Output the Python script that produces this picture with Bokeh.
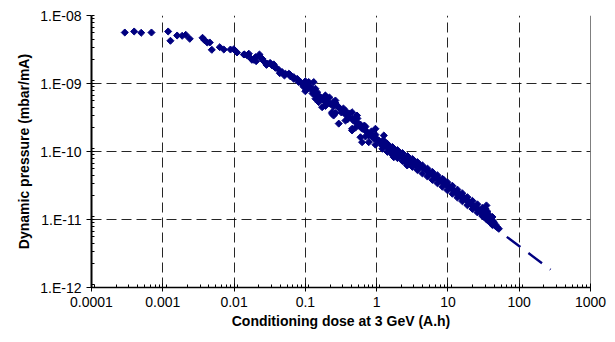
import numpy as np
from bokeh.plotting import figure
from bokeh.models import Range1d, Span, CustomJSTickFormatter, LogTicker
from bokeh.embed import file_html
from bokeh.resources import INLINE

# Conditioning dose (A.h) and dynamic pressure (mbar/mA)
dose = [
    2.93e-4, 3.97e-4, 4.98e-4, 6.94e-4, 1.19e-3, 1.28e-3, 1.59e-3, 1.87e-3, 2.10e-3, 2.39e-3,
    3.61e-3, 3.85e-3, 4.2e-3, 4.56e-3, 4.87e-3, 6.3e-3, 7.18e-3, 8.9e-3, 9.9e-3, 1.10e-2,
    1.40e-2, 1.61e-2, 1.79e-2, 2.04e-2, 2.27e-2, 2.48e-2, 2.85e-2, 3.24e-2, 3.72e-2, 4.38e-2,
    5.09e-2, 6.05e-2, 6.88e-2, 8.07e-2,
    1.37e-2, 1.53e-2, 1.74e-2, 1.89e-2, 2.0e-2, 2.29e-2, 2.48e-2, 2.61e-2, 2.91e-2, 3.16e-2,
    3.42e-2, 3.6e-2, 3.8e-2, 4.24e-2, 4.73e-2, 5.26e-2, 5.86e-2, 6.19e-2, 6.88e-2, 7.69e-2,
    8.55e-2, 9.5e-2, 0.106,
    9.0e-2, 0.100, 0.1117, 0.131, 0.125, 0.1466, 0.1387, 0.163, 0.154, 0.181,
    0.202, 0.191, 0.172, 0.224, 0.249, 0.279, 0.264, 0.237, 0.249, 0.310,
    0.345, 0.405, 0.452, 0.503, 0.452, 0.561,
    0.452, 0.531, 0.561, 0.625, 0.697, 0.625, 0.775, 0.962, 0.912, 1.07,
    1.26, 1.19, 1.40, 1.56, 1.84, 1.74, 2.16, 2.54, 2.98, 3.50, 3.89, 2.68,
    3.31, 3.70, 4.35, 5.1, 6.0, 6.68, 7.85, 9.22, 10.3, 12.1, 14.2, 16.7, 19.6,
    15.8, 18.6, 21.8, 25.6, 28.6, 33.6, 34.7, 35.5, 39.5, 44.1, 49.2, 51.8,
    0.294, 0.237, 0.593, 0.775, 0.452,
    9.4e-2, 0.107, 0.118, 0.126, 0.152, 0.174, 0.204, 0.218, 0.248, 0.291,
    0.320, 0.365, 0.389, 0.472, 0.537, 0.592, 0.652, 0.718, 0.817, 0.871,
    0.993, 1.13, 1.29, 1.46, 1.66, 1.96, 2.30, 2.79, 3.18, 3.98,
    4.68, 5.5, 6.25, 7.35, 8.36, 9.84, 11.2, 13.2, 15.0, 17.6,
    20.7, 23.5, 26.8, 31.5, 37.0, 42.1, 46.3, 39.5, 32.5, 13.6,
    8.63, 5.33, 2.45, 2.09, 1.42, 0.844, 0.673, 0.415, 0.342, 0.191,
    # upper edge of the dense band, 1 to 50 A.h
    1.206, 1.417, 1.666, 1.958, 2.301, 2.704, 3.178, 3.735, 4.389, 5.159,
    6.062, 7.125, 8.374, 9.84, 11.56, 13.59, 15.97, 18.77, 22.06, 25.93,
    30.47, 35.81, 42.09,
    # lower edge of the dense band, 1 to 50 A.h
    1.206, 1.417, 1.666, 1.958, 2.301, 2.704, 3.178, 3.735, 4.389, 5.159,
    6.062, 7.125, 8.374, 9.84, 11.56, 13.59, 15.97, 18.77, 22.06, 25.93,
    30.47, 35.81, 42.09,
    # upper and lower edges, 0.1 to 1 A.h
    0.1, 0.1386, 0.1913, 0.2644, 0.3651, 0.5043, 0.6965, 0.962,
    0.1, 0.1386, 0.1913, 0.2644, 0.3651, 0.5043, 0.6965, 0.962,
]
pressure = [
    5.62e-9, 5.82e-9, 5.57e-9, 5.62e-9, 5.82e-9, 4.25e-9, 5.08e-9, 5.03e-9, 5.2e-9, 4.54e-9,
    4.70e-9, 4.33e-9, 4.01e-9, 4.01e-9, 3.13e-9, 3.42e-9, 3.16e-9, 3.16e-9, 3.19e-9, 2.86e-9,
    2.67e-9, 2.74e-9, 2.23e-9, 2.13e-9, 2.67e-9, 2.28e-9, 1.88e-9, 1.99e-9, 1.78e-9, 1.42e-9,
    1.31e-9, 1.36e-9, 1.17e-9, 1.05e-9,
    2.67e-9, 2.58e-9, 2.31e-9, 2.23e-9, 2.44e-9, 2.49e-9, 2.31e-9, 2.13e-9, 1.95e-9, 1.99e-9,
    1.84e-9, 1.91e-9, 1.70e-9, 1.59e-9, 1.47e-9, 1.39e-9, 1.39e-9, 1.27e-9, 1.24e-9, 1.17e-9,
    1.05e-9, 9.9e-10, 9.3e-10,
    9.9e-10, 9.35e-10, 1.05e-9, 1.05e-9, 7.89e-10, 7.45e-10, 6.67e-10, 6.29e-10, 5.31e-10, 5.62e-10,
    5.96e-10, 4.75e-10, 4.48e-10, 5.03e-10, 5.31e-10, 4.75e-10, 5.62e-10, 3.78e-10, 3.38e-10, 4.25e-10,
    3.78e-10, 3.19e-10, 3.03e-10, 2.70e-10, 2.16e-10, 2.41e-10,
    3.78e-10, 3.38e-10, 2.55e-10, 2.16e-10, 2.04e-10, 1.37e-10, 1.72e-10, 2.16e-10, 1.54e-10, 1.45e-10,
    1.72e-10, 1.22e-10, 1.16e-10, 1.03e-10, 9.76e-11, 8.24e-11, 8.73e-11, 7.81e-11, 7.37e-11, 6.6e-11, 5.88e-11, 6.23e-11,
    7.37e-11, 6.6e-11, 5.88e-11, 5.26e-11, 4.70e-11, 4.19e-11, 3.75e-11, 3.35e-11, 2.99e-11, 2.67e-11, 2.39e-11, 2.01e-11, 1.80e-11,
    2.25e-11, 1.90e-11, 1.61e-11, 1.44e-11, 1.28e-11, 1.44e-11, 1.61e-11, 1.15e-11, 1.02e-11, 9.13e-12, 7.7e-12, 7.3e-12,
    2.57e-10, 3.58e-10, 1.62e-10, 1.37e-10, 2.04e-10,
    9.0e-10, 8.44e-10, 9.0e-10, 7.13e-10, 6.67e-10, 5.82e-10, 5.26e-10, 6.22e-10, 4.59e-10, 4.44e-10,
    3.75e-10, 3.50e-10, 2.96e-10, 2.86e-10, 3.06e-10, 2.49e-10, 2.25e-10, 1.97e-10, 1.84e-10, 1.66e-10,
    1.55e-10, 1.36e-10, 1.41e-10, 1.15e-10, 1.07e-10, 9.35e-11, 8.44e-11, 7.63e-11, 6.67e-11, 6.44e-11,
    5.62e-11, 4.91e-11, 4.59e-11, 4.01e-11, 3.50e-11, 3.27e-11, 2.86e-11, 2.58e-11, 2.18e-11, 2.04e-11,
    1.78e-11, 1.55e-11, 1.41e-11, 1.27e-11, 1.19e-11, 9.67e-12, 8.44e-12, 9.0e-12, 1.07e-11, 2.34e-11,
    3.87e-11, 4.44e-11, 7.13e-11, 9.67e-11, 1.27e-10, 1.97e-10, 2.41e-10, 3.62e-10, 4.29e-10, 6.67e-10,
    1.437e-10, 1.294e-10, 1.165e-10, 1.049e-10, 9.5e-11, 8.59e-11, 7.78e-11, 6.98e-11, 6.25e-11, 5.61e-11,
    5.01e-11, 4.47e-11, 3.97e-11, 3.52e-11, 3.13e-11, 2.75e-11, 2.42e-11, 2.13e-11, 1.88e-11, 1.67e-11,
    1.48e-11, 1.31e-11, 1.09e-11,
    1.096e-10, 9.87e-11, 8.88e-11, 8.0e-11, 7.25e-11, 6.55e-11, 5.94e-11, 5.33e-11, 4.76e-11, 4.28e-11,
    3.82e-11, 3.41e-11, 3.03e-11, 2.69e-11, 2.39e-11, 2.10e-11, 1.85e-11, 1.62e-11, 1.43e-11, 1.27e-11,
    1.12e-11, 1.0e-11, 8.3e-12,
    1.079e-9, 8.37e-10, 6.57e-10, 5.15e-10, 3.99e-10, 3.14e-10, 2.32e-10, 1.77e-10,
    7.69e-10, 5.97e-10, 4.69e-10, 3.67e-10, 2.85e-10, 2.24e-10, 1.66e-10, 1.26e-10,
]

# Extrapolated trend (dashed)
fit_dose = [33.3, 275.0]
fit_pressure = [9.6e-12, 1.83e-12]

x_tick_labels = ["0.0001", "0.001", "0.01", "0.1", "1", "10", "100", "1000"]
y_tick_labels = ["1.E-12", "1.E-11", "1.E-10", "1.E-09", "1.E-08"]

NAVY = "#000080"
FONT = "Liberation Sans"

p = figure(width=615, height=342, x_axis_type="log", y_axis_type="log",
           x_range=Range1d(1e-4, 1e3), y_range=Range1d(1e-12, 1e-8),
           output_backend="svg", toolbar_location=None,
           min_border_left=91, min_border_right=25, min_border_top=15, min_border_bottom=55)
p.background_fill_color = "white"
p.border_fill_color = "white"
p.outline_line_color = None

p.xaxis.ticker = LogTicker(num_minor_ticks=9)
p.yaxis.ticker = LogTicker(num_minor_ticks=9)
p.xaxis.formatter = CustomJSTickFormatter(args=dict(labels=x_tick_labels), code="""
const e = Math.round(Math.log10(tick)); return labels[e + 4] ?? "";""")
p.yaxis.formatter = CustomJSTickFormatter(args=dict(labels=y_tick_labels), code="""
const e = Math.round(Math.log10(tick)); return labels[e + 12] ?? "";""")

for ax in (p.xaxis, p.yaxis):
    ax.major_label_text_font = FONT
    ax.major_label_text_font_size = "14px"
    ax.major_label_text_color = "black"
    ax.axis_label_text_font = FONT
    ax.axis_label_text_font_size = "14px"
    ax.axis_label_text_font_style = "bold"
    ax.axis_label_text_color = "black"
    ax.axis_line_color = "black"
    ax.major_tick_line_color = "black"
    ax.minor_tick_line_color = "black"

p.xaxis.axis_label = "Conditioning dose at 3 GeV (A.h)"
p.yaxis.axis_label = "Dynamic pressure (mbar/mA)"
p.xaxis.axis_line_width = 1.5
p.yaxis.axis_line_width = 2
p.xaxis.major_tick_in = 4
p.xaxis.major_tick_out = 4
p.xaxis.minor_tick_in = 3
p.xaxis.minor_tick_out = 0
p.yaxis.major_tick_in = 0
p.yaxis.major_tick_out = 5
p.yaxis.minor_tick_in = 3
p.yaxis.minor_tick_out = 0
p.xaxis.major_label_standoff = 5
p.yaxis.major_label_standoff = 5
p.xaxis.axis_label_standoff = 3
p.yaxis.axis_label_standoff = 5

for g in (p.xgrid, p.ygrid):
    g.grid_line_color = "black"
    g.grid_line_alpha = 0.85
    g.grid_line_dash = "10 5"
    g.grid_line_width = 1
    g.minor_grid_line_color = None

p.add_layout(Span(location=1e3, dimension="height", line_color="black", line_width=1))

p.scatter(dose, pressure, marker="square", angle=np.pi / 4, size=5,
          fill_color=NAVY, line_color=NAVY, line_width=1)
p.line(fit_dose, fit_pressure, line_color=NAVY, line_width=2.4, line_dash="17 10")

open("out.html", "w").write(file_html(p, INLINE))
